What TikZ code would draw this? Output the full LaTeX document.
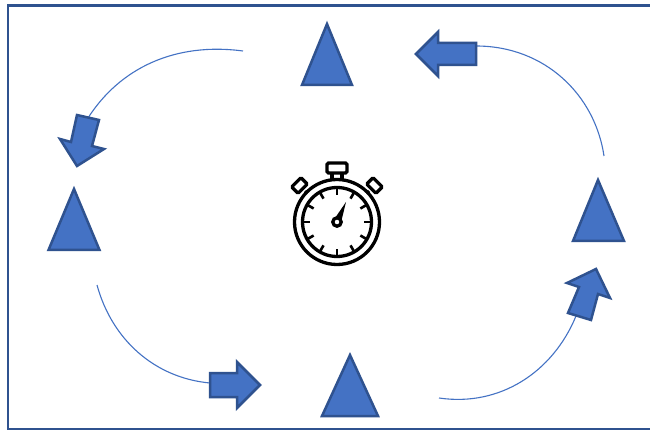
\documentclass[tikz,border=0pt]{standalone}
\definecolor{shapefill}{HTML}{4472C4}
\definecolor{shapeline}{HTML}{2F528F}
\tikzset{
  shapestyle/.style={fill=shapefill,draw=shapeline,line width=2.5pt,miter limit=10},
  flowline/.style={draw=shapefill,line width=1.1pt},
  framestyle/.style={draw=shapeline,line width=2.8pt},
  inkline/.style={draw=black,line width=3.3pt},
  tickline/.style={draw=black,line width=2.6pt}
}
\begin{document}
\begin{tikzpicture}[x=1pt,y=-1pt]
\useasboundingbox (0,0) rectangle (650,430);
\fill[white] (0,0) rectangle (650,430);
% frame
\draw[framestyle] (660,5.5) -- (8,5.5) -- (8,429) -- (660,429);
% flow curves
\coordinate (c1s) at (243,51);  \coordinate (c1e) at (88,118);
\coordinate (c2s) at (97,285);  \coordinate (c2e) at (210,383);
\coordinate (c3s) at (439,398); \coordinate (c3e) at (576,316);
\coordinate (c4s) at (476,46);  \coordinate (c4e) at (604,156);
\draw[flowline] (c1s) .. controls (175,42) and (120,68) .. (c1e);
\draw[flowline] (c2s) .. controls (112,340) and (155,378) .. (c2e);
\draw[flowline] (c3s) .. controls (500,407) and (553,372) .. (c3e);
\draw[flowline] (c4s) .. controls (545,46) and (595,95) .. (c4e);
% triangles
\draw[shapestyle] (327,24) -- (352,85) -- (302,85) -- cycle;
\draw[shapestyle] (74,189) -- (99.5,250) -- (48.5,250) -- cycle;
\draw[shapestyle] (598,180) -- (624,241) -- (573,241) -- cycle;
\draw[shapestyle] (350,355) -- (378,416) -- (322,416) -- cycle;
% block arrows
\draw[shapestyle] (416,54) -- (438,32) -- (438,43) -- (476,43) -- (476,65) -- (438,65) -- (438,76) -- cycle;
\draw[shapestyle] (77,115) -- (99,120) -- (92,146) -- (104,149) -- (77,166) -- (60,139) -- (71,142) -- cycle;
\draw[shapestyle] (568,313) -- (591,320) -- (598,294) -- (610,298) -- (596,269) -- (567,283) -- (579,287) -- cycle;
\draw[shapestyle] (210,373) -- (237,373) -- (237,362) -- (260,385) -- (237,408) -- (237,397) -- (210,397) -- cycle;
% stopwatch
\coordinate (w) at (337,222);
\draw[inkline,fill=white,rounded corners=1.5pt] (327,163) rectangle (347,173);
\draw[inkline] (332,173) -- (332,181) (342,173) -- (342,181);
\draw[inkline] ([shift={(-32,-31)}]w) -- ([shift={(-28,-27)}]w);
\draw[inkline] ([shift={(32,-31)}]w) -- ([shift={(28,-27)}]w);
\draw[inkline,fill=white,rounded corners=1pt,rotate around={45:(299.5,185.5)}] (293,181) rectangle (306,190);
\draw[inkline,fill=white,rounded corners=1pt,rotate around={-45:(374.5,185.5)}] (368,181) rectangle (381,190);
\draw[inkline,fill=white] (w) circle (42.5);
\draw[inkline,fill=white] (w) circle (34.5);
\foreach \a in {0,30,...,330}{
  \draw[tickline] ([shift={(\a:34)}]w) -- ([shift={(\a:27)}]w);
}
\fill[black] ([shift={(-4,-1)}]w) -- (346,202) -- ([shift={(3.8,1.4)}]w) -- cycle;
\draw[inkline,fill=white] (w) circle (4.2);
\end{tikzpicture}
\end{document}
